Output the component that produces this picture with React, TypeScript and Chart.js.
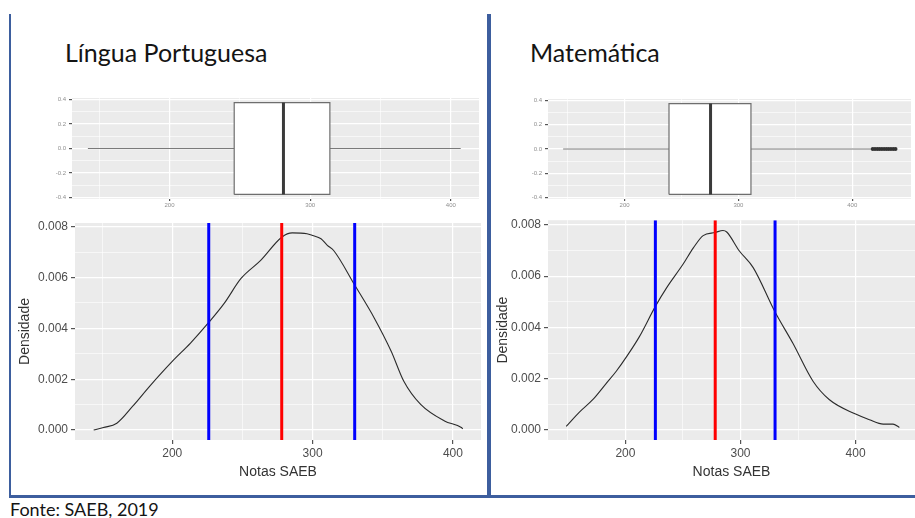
import React, { useEffect, useRef } from "react";
import { Chart, registerables } from "chart.js";
Chart.register(...registerables);

// ---------- DATA ----------
// Língua Portuguesa – density curve
const lpDensX = [144, 151, 160.5, 172, 184, 200, 213, 226, 237, 249, 263, 278, 285.5, 296, 300, 306, 310.5, 315, 330, 344, 356, 365, 377, 394, 406, 407];
const lpDensY = [0.0, 0.0001, 0.00027, 0.00095, 0.00173, 0.0027, 0.00342, 0.00423, 0.00498, 0.00596, 0.00667, 0.00758, 0.00775, 0.00772, 0.00765, 0.00752, 0.00726, 0.00706, 0.0057, 0.0044, 0.0031, 0.00192, 0.00101, 0.00036, 0.0001, 0.00005];
// Matemática – density curve
const mtDensX = [148.5, 160, 172, 183, 192, 201, 212, 226, 236, 250, 259, 267.5, 278, 284.7, 288, 299, 311, 330, 345.5, 363, 377, 400, 412, 424, 432.5, 438];
const mtDensY = [0.00014, 0.0007, 0.0012, 0.0018, 0.00229, 0.00286, 0.00363, 0.00482, 0.00556, 0.00646, 0.0071, 0.00758, 0.0077, 0.00778, 0.00772, 0.00698, 0.00633, 0.0046, 0.00338, 0.0019, 0.00119, 0.00062, 0.0004, 0.00023, 0.00023, 0.0001];

// mean (red) and mean ± sd (blue)
const lpMean = 278;
const lpSdLines = [226, 330];
const mtMean = 278;
const mtSdLines = [226, 330];

// boxplots: [whiskerLow, q1, median, q3, whiskerHigh]
const lpBox = [142, 246, 281, 314, 407];
const mtBox = [146, 239, 275.5, 311, 417];
const lpOutliers: number[] = [];
const mtOutliers = [418, 420, 422, 424, 426, 428, 430, 432, 434, 436, 438];

// axis ticks
const xMajor = [200, 300, 400];
const xMinor = [150, 250, 350];
const densYMajor = [0, 0.002, 0.004, 0.006, 0.008];
const densYMinor = [0.001, 0.003, 0.005, 0.007];
const boxYMajor = [-0.4, -0.2, 0, 0.2, 0.4];
const boxYMinor = [-0.3, -0.1, 0.1, 0.3];

// axis ranges
const lpXRange = [130.7, 420];
const mtXRange = [132.7, 451.6];
const densYRange = [-0.00039, 0.00814];
const mtDensYRange = [-0.00039, 0.00818];
const boxYRange = [-0.4125, 0.4125];
const BOX_HALF = 0.375;

const TITLE_LP = "Língua Portuguesa";
const TITLE_MT = "Matemática";
const SOURCE = "Fonte: SAEB, 2019";
const X_TITLE = "Notas SAEB";
const Y_TITLE = "Densidade";

// ---------- HELPERS ----------
const SANS = "'Liberation Sans', Arial, sans-serif";
const bgPlugin = {
  id: "panelBg",
  beforeDraw(chart: any) {
    const { ctx, chartArea } = chart;
    if (!chartArea) return;
    ctx.save();
    ctx.fillStyle = "#ebebeb";
    ctx.fillRect(chartArea.left, chartArea.top, chartArea.right - chartArea.left, chartArea.bottom - chartArea.top);
    ctx.restore();
  },
};

const near = (a: number, list: number[]) => list.some((v) => Math.abs(v - a) < 1e-9);

function axis(
  pos: "x" | "y",
  range: number[],
  majors: number[],
  minors: number[],
  size: number,
  fmt: (v: number) => string,
  font: number,
  tickColor: string,
  tickLen: number,
  pad: number,
  title?: { text: string; padTop: number; padBottom: number }
) {
  return {
    type: "linear",
    position: pos === "x" ? "bottom" : "left",
    min: range[0],
    max: range[1],
    afterBuildTicks: (s: any) => {
      s.ticks = [...majors, ...minors].sort((a, b) => a - b).map((v) => ({ value: v }));
    },
    afterFit: (s: any) => {
      if (pos === "x") s.height = size;
      else s.width = size;
    },
    border: { display: false },
    grid: {
      color: "#ffffff",
      lineWidth: (c: any) => (c.tick && near(c.tick.value, majors) ? 1.2 : 0.6),
      tickColor: (c: any) => (c.tick && near(c.tick.value, majors) ? "#555555" : "rgba(0,0,0,0)"),
      tickLength: tickLen,
      drawTicks: true,
    },
    ticks: {
      autoSkip: false,
      maxRotation: 0,
      padding: pad,
      color: tickColor,
      font: { family: SANS, size: font },
      callback: (v: any) => (near(Number(v), majors) ? fmt(Number(v)) : ""),
    },
    title: title
      ? {
          display: true,
          text: title.text,
          color: "#333333",
          font: { family: SANS, size: 14 },
          padding: { top: title.padTop, bottom: title.padBottom },
        }
      : { display: false },
  };
}

function densityConfig(p: {
  xs: number[];
  ys: number[];
  mean: number;
  sd: number[];
  xRange: number[];
  yRange: number[];
  yAxisWidth: number;
  padTop: number;
  padRight: number;
  yTitlePad: number;
}): any {
  const vline = (x: number, color: string) => ({
    data: [
      { x, y: p.yRange[0] },
      { x, y: p.yRange[1] },
    ],
    showLine: true,
    borderColor: color,
    borderWidth: 3,
    pointRadius: 0,
    order: 0,
  });
  return {
    type: "scatter",
    data: {
      datasets: [
        vline(p.mean, "#ff0000"),
        vline(p.sd[0], "#0000ff"),
        vline(p.sd[1], "#0000ff"),
        {
          data: p.xs.map((x, i) => ({ x, y: p.ys[i] })),
          showLine: true,
          borderColor: "#2b2b2b",
          borderWidth: 1.1,
          pointRadius: 0,
          cubicInterpolationMode: "monotone",
          order: 1,
        },
      ],
    },
    options: {
      responsive: false,
      animation: false,
      events: [],
      layout: { padding: { top: p.padTop, right: p.padRight, left: 0, bottom: 0 } },
      plugins: { legend: { display: false }, tooltip: { enabled: false } },
      scales: {
        x: axis("x", p.xRange, xMajor, xMinor, 50, (v) => String(v), 12, "#4d4d4d", 4, 2, {
          text: X_TITLE,
          padTop: 0,
          padBottom: 9.5,
        }),
        y: axis("y", p.yRange, densYMajor, densYMinor, p.yAxisWidth, (v) => v.toFixed(3), 12, "#4d4d4d", 4, 3, {
          text: Y_TITLE,
          padTop: p.yTitlePad,
          padBottom: 0,
        }),
      },
    },
    plugins: [bgPlugin],
  };
}

function boxConfig(p: {
  box: number[];
  outliers: number[];
  xRange: number[];
  yAxisWidth: number;
  padTop: number;
  padRight: number;
}): any {
  const [lo, q1, med, q3, hi] = p.box;
  const seg = (pts: { x: number; y: number }[], color: string, width: number, extra: any = {}) => ({
    data: pts,
    showLine: true,
    borderColor: color,
    borderWidth: width,
    pointRadius: 0,
    tension: 0,
    ...extra,
  });
  return {
    type: "scatter",
    data: {
      datasets: [
        seg(
          [
            { x: med, y: -BOX_HALF },
            { x: med, y: BOX_HALF },
          ],
          "#3a3a3a",
          3,
          { order: 0 }
        ),
        seg(
          [
            { x: q1, y: -BOX_HALF },
            { x: q3, y: -BOX_HALF },
            { x: q3, y: BOX_HALF },
            { x: q1, y: BOX_HALF },
            { x: q1, y: -BOX_HALF },
          ],
          "#6e6e6e",
          1.2,
          { fill: "shape", backgroundColor: "#ffffff", order: 1 }
        ),
        seg(
          [
            { x: lo, y: 0 },
            { x: q1, y: 0 },
          ],
          "#7a7a7a",
          1.2,
          { order: 2 }
        ),
        seg(
          [
            { x: q3, y: 0 },
            { x: hi, y: 0 },
          ],
          "#7a7a7a",
          1.2,
          { order: 2 }
        ),
        {
          data: p.outliers.map((x) => ({ x, y: 0 })),
          pointRadius: 2,
          pointBorderWidth: 0,
          pointBackgroundColor: "#333333",
          order: 0,
        },
      ],
    },
    options: {
      responsive: false,
      animation: false,
      events: [],
      layout: { padding: { top: p.padTop, right: p.padRight, left: 0, bottom: 0 } },
      plugins: { legend: { display: false }, tooltip: { enabled: false } },
      scales: {
        x: axis("x", p.xRange, xMajor, xMinor, 11, (v) => String(v), 6, "#8f8f8f", 2, 1),
        y: axis("y", boxYRange, boxYMajor, boxYMinor, p.yAxisWidth, (v) => v.toFixed(1), 6, "#8f8f8f", 3, 3),
      },
    },
    plugins: [bgPlugin],
  };
}

function ChartBox({ left, top, width, height, config }: { left: number; top: number; width: number; height: number; config: () => any }) {
  const ref = useRef<HTMLCanvasElement>(null);
  useEffect(() => {
    const chart = new Chart(ref.current as HTMLCanvasElement, config());
    return () => chart.destroy();
  }, []);
  return (
    <canvas
      ref={ref}
      width={width}
      height={height}
      style={{ position: "absolute", left, top, width, height, display: "block" }}
    />
  );
}

const BORDER = "#3d5e9e";

export default function App() {
  const titleStyle: React.CSSProperties = {
    position: "absolute",
    fontFamily: "Lato, 'Open Sans', sans-serif",
    fontSize: 25,
    lineHeight: "normal",
    color: "#141414",
    whiteSpace: "nowrap",
  };
  return (
    <div style={{ position: "absolute", left: 0, top: 0, width: 915, height: 518, overflow: "hidden", background: "#ffffff" }}>
      {/* frame */}
      <div style={{ position: "absolute", left: 9, top: 14, width: 2, height: 483, background: BORDER }} />
      <div style={{ position: "absolute", left: 487, top: 14, width: 4, height: 483, background: BORDER }} />
      <div style={{ position: "absolute", left: 9, top: 495, width: 906, height: 2.5, background: BORDER }} />

      <div style={{ ...titleStyle, left: 65, top: 37 }}>{TITLE_LP}</div>
      <div style={{ ...titleStyle, left: 530, top: 37 }}>{TITLE_MT}</div>
      <div style={{ ...titleStyle, fontSize: 18, left: 10, top: 498 }}>{SOURCE}</div>

      <ChartBox
        left={12}
        top={90}
        width={474}
        height={120}
        config={() => boxConfig({ box: lpBox, outliers: lpOutliers, xRange: lpXRange, yAxisWidth: 60, padTop: 8, padRight: 7 })}
      />
      <ChartBox
        left={492}
        top={90}
        width={423}
        height={120}
        config={() => boxConfig({ box: mtBox, outliers: mtOutliers, xRange: mtXRange, yAxisWidth: 56, padTop: 9, padRight: 0 })}
      />
      <ChartBox
        left={12}
        top={210}
        width={474}
        height={280}
        config={() =>
          densityConfig({
            xs: lpDensX,
            ys: lpDensY,
            mean: lpMean,
            sd: lpSdLines,
            xRange: lpXRange,
            yRange: densYRange,
            yAxisWidth: 63,
            padTop: 13,
            padRight: 5,
            yTitlePad: 4.6,
          })
        }
      />
      <ChartBox
        left={492}
        top={210}
        width={423}
        height={280}
        config={() =>
          densityConfig({
            xs: mtDensX,
            ys: mtDensY,
            mean: mtMean,
            sd: mtSdLines,
            xRange: mtXRange,
            yRange: mtDensYRange,
            yAxisWidth: 56,
            padTop: 8,
            padRight: 0,
            yTitlePad: 2.6,
          })
        }
      />
    </div>
  );
}
